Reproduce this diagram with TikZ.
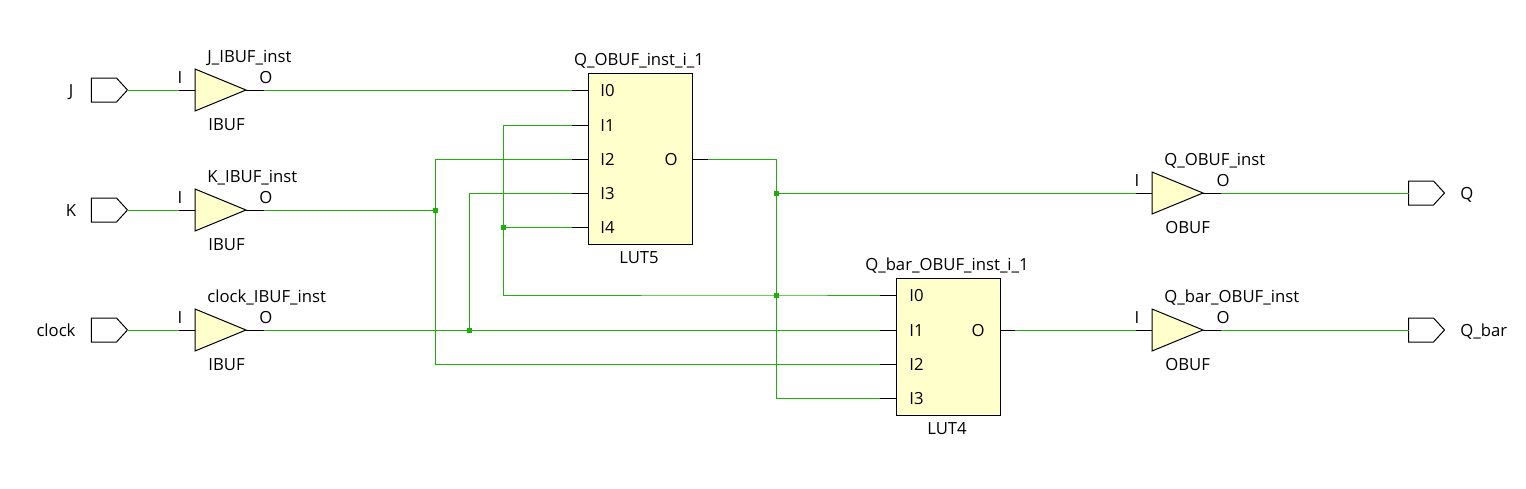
\documentclass[tikz,border=0pt]{standalone}
\usepackage{fontspec}
\setmainfont{Open Sans}
\usetikzlibrary{shapes.geometric}
\usetikzlibrary{shapes.symbols}

\definecolor{wiregreen}{RGB}{30,175,10}
\definecolor{cellfill}{RGB}{255,255,204}

\tikzset{
  wire/.style={draw=wiregreen, line width=0.5pt},
  stub/.style={draw=black, line width=0.5pt},
  junc/.style={fill=wiregreen, rectangle, inner sep=0pt, minimum size=2.5pt, outer sep=0pt},
  txt/.style={font=\fontsize{8.35pt}{10pt}\selectfont, inner sep=0pt, text height=7pt, text depth=1pt},
  port/.style={draw=black, line width=0.5pt, signal, signal to=east, signal pointer angle=95,
    minimum width=18pt, minimum height=12pt, inner sep=0pt, outer sep=0pt},
  buf/.style={draw=black, line width=0.5pt, fill=cellfill, isosceles triangle, isosceles triangle stretches,
    minimum width=21pt, minimum height=25.5pt, inner sep=0pt, outer sep=0pt, anchor=lower side},
  lut/.style={draw=black, line width=0.5pt, fill=cellfill, rectangle, minimum width=52pt, inner sep=0pt, outer sep=0pt}
}

% #1 name, #2 left x, #3 mid y, #4 instance, #5 cell type
\newcommand{\bufcell}[5]{
  \node[buf] (#1) at (#2,#3) {};
  \coordinate (#1-i) at (#2-16,#3);
  \coordinate (#1-o) at (#2+69,#3);
  \draw[stub] (#1-i) -- (#1.lower side);
  \draw[stub] (#1.apex) -- (#1-o);
  \node[txt, anchor=west] (#1-name) at (#2+12,#3-34) {#4};
  \node[txt, anchor=west] (#1-type) at (#2+13,#3+34) {#5};
  \node[txt] (#1-I) at (#2-15,#3-13) {I};
  \node[txt] (#1-O) at (#2+71,#3-13) {O};
}

\begin{document}
\begin{tikzpicture}[x=0.5pt, y=-0.5pt]
  \useasboundingbox (0,0) rectangle (1526,488);

  \node[port] (J) at (104,90) {};
  \node[port] (K) at (104,210) {};
  \node[port] (clock) at (104,330) {};
  \node[port] (Q) at (1421,193) {};
  \node[port] (Qbar) at (1421,330) {};
  \node[txt] (J-label) at (71,90) {J};
  \node[txt] (K-label) at (71,210) {K};
  \node[txt] (clock-label) at (56,330) {clock};
  \node[txt, anchor=west] (Q-label) at (1460,193) {Q};
  \node[txt, anchor=west] (Qbar-label) at (1460,330) {Q\_bar};

  \bufcell{Jbuf}{195}{90}{J\_IBUF\_inst}{IBUF}
  \bufcell{Kbuf}{195}{210}{K\_IBUF\_inst}{IBUF}
  \bufcell{clockbuf}{195}{330}{clock\_IBUF\_inst}{IBUF}
  \bufcell{Qbuf}{1152}{193}{Q\_OBUF\_inst}{OBUF}
  \bufcell{Qbarbuf}{1152}{330}{Q\_bar\_OBUF\_inst}{OBUF}

  \node[lut, minimum height=85.5pt] (lutA) at (640,158.5) {};
  \node[lut, minimum height=68.5pt] (lutB) at (948,346.5) {};
  \node[txt] (lutA-name) at (639,59) {Q\_OBUF\_inst\_i\_1};
  \node[txt] (lutA-type) at (639,257) {LUT5};
  \node[txt] (lutB-name) at (947,264) {Q\_bar\_OBUF\_inst\_i\_1};
  \node[txt] (lutB-type) at (947,428) {LUT4};

  \foreach \n/\y in {0/90,1/125,2/159,3/193,4/227} {
    \coordinate (lutA-i\n) at (572,\y);
    \draw[stub] (lutA-i\n) -- (588,\y);
    \node[txt, anchor=west] (lutA-I\n) at (600,\y) {I\n};
  }
  \foreach \n/\y in {0/295,1/330,2/364,3/398} {
    \coordinate (lutB-i\n) at (880,\y);
    \draw[stub] (lutB-i\n) -- (896,\y);
    \node[txt, anchor=west] (lutB-I\n) at (909,\y) {I\n};
  }
  \coordinate (lutA-o) at (708,159);
  \coordinate (lutB-o) at (1015,330);
  \draw[stub] (692,159) -- (lutA-o);
  \draw[stub] (1000,330) -- (lutB-o);
  \node[txt] (lutA-O) at (671,159) {O};
  \node[txt] (lutB-O) at (978,330) {O};

  \node[junc] (jK) at (435,210) {};
  \node[junc] (jclock) at (469,330) {};
  \node[junc] (jI4) at (503,227) {};
  \node[junc] (jQ) at (776,193) {};
  \node[junc] (jbar) at (776,295) {};

  \draw[wire] (J.east) -- (Jbuf-i);
  \draw[wire] (K.east) -- (Kbuf-i);
  \draw[wire] (clock.east) -- (clockbuf-i);
  \draw[wire] (Jbuf-o) -- (lutA-i0);
  \draw[wire] (Kbuf-o) -- (jK.center);
  \draw[wire] (jK.center) |- (lutA-i2);
  \draw[wire] (jK.center) |- (lutB-i2);
  \draw[wire] (clockbuf-o) -- (lutB-i1);
  \draw[wire] (jclock.center) |- (lutA-i3);
  \draw[wire] (jI4.center) -- (lutA-i4);
  \draw[wire] (jI4.center) |- (lutA-i1);
  \draw[wire] (jI4.center) |- (jbar.center) -- (lutB-i0);
  \draw[wire] (lutA-o) -| (jQ.center);
  \draw[wire] (jQ.center) -- (Qbuf-i);
  \draw[wire] (jQ.center) |- (lutB-i3);
  \draw[wire] (lutB-o) -- (Qbarbuf-i);
  \draw[wire] (Qbuf-o) -- (Q.west);
  \draw[wire] (Qbarbuf-o) -- (Qbar.west);
\end{tikzpicture}
\end{document}
